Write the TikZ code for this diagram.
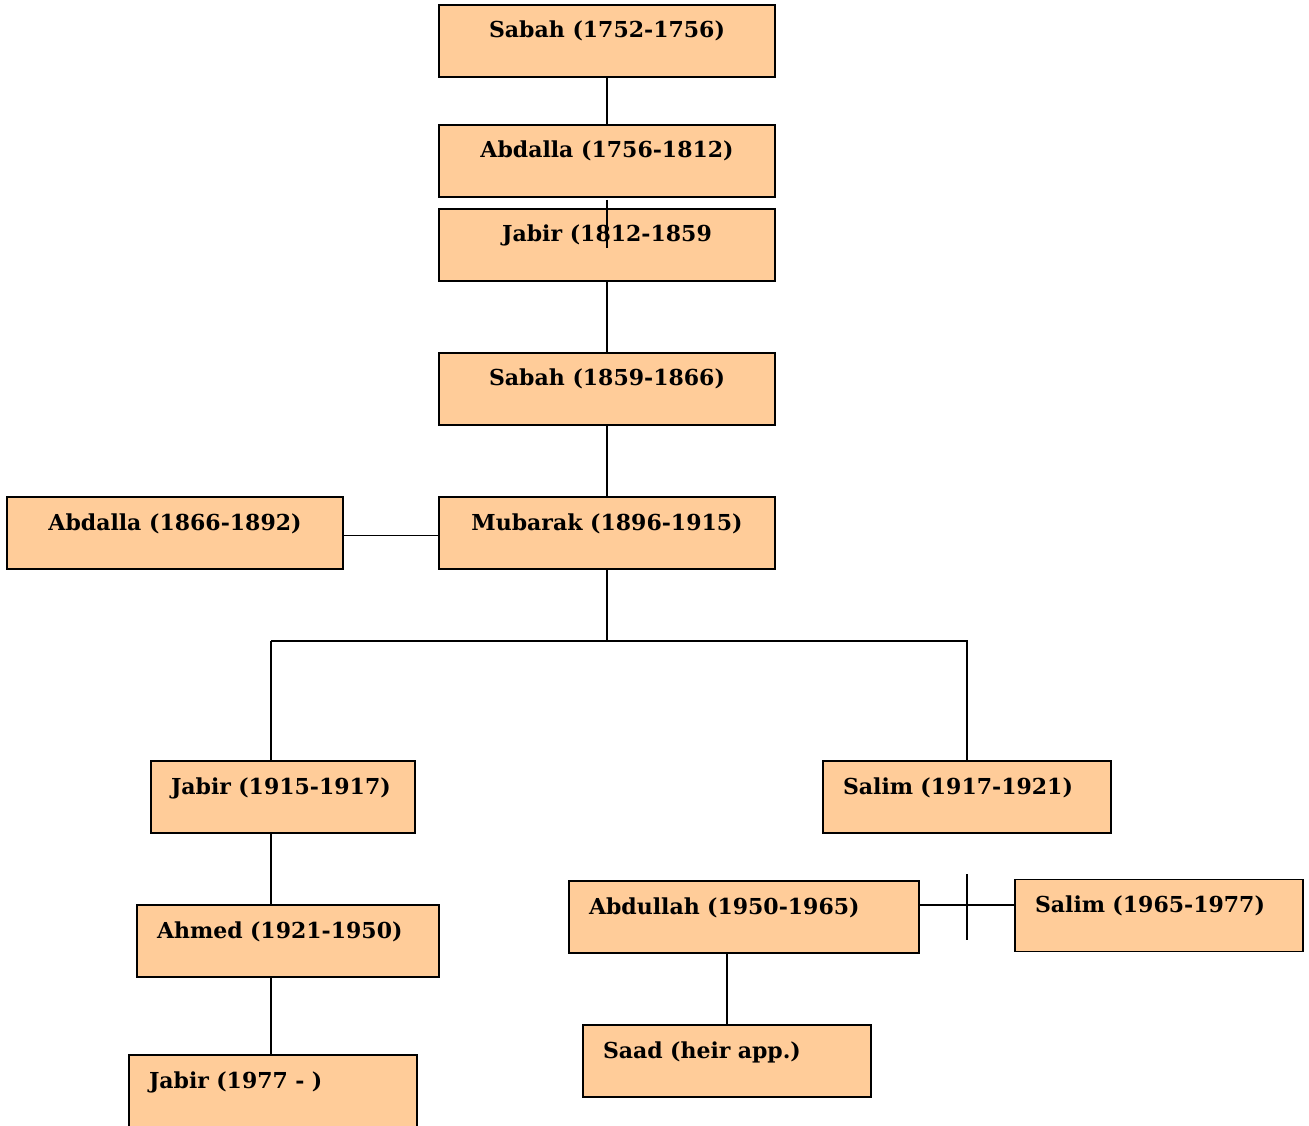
\documentclass[tikz,border=0pt]{standalone}
\usepackage{fontspec}
\setmainfont{DejaVu Serif}
\usetikzlibrary{calc}
\definecolor{peach}{RGB}{255,204,153}

\tikzset{
  box/.style={draw, line width=1.3pt, fill=peach, inner sep=0pt,
    minimum width=#1, minimum height=54pt,
    text height=24.75pt, text depth=29.25pt,
    font=\bfseries\fontsize{16.5}{19}\selectfont},
  box/.default=252pt,
  lbox/.style={box=10pt, inner xsep=15pt, text width=#1, align=left},
  link/.style={line width=1pt}
}

\begin{document}
\begin{tikzpicture}[x=0.75pt, y=-0.75pt]
		\useasboundingbox (0,0) rectangle (1309,1126);
		
		% main line
		\node [box] (sabah1) at (607,41) {Sabah (1752-1756)};
		\node [box] (abdalla1) at (607,161) {Abdalla (1756-1812)};
		\node [box] (jabir1) at (607,245) {Jabir (1812-1859};
		\node [box] (sabah2) at (607,389) {Sabah (1859-1866)};
		\node [box] (mubarak) at (607,533) {Mubarak (1896-1915)};
		\node [box] (abdalla2) at (175,533) {Abdalla (1866-1892)};
		
		% sons of Mubarak
		\node [lbox=168pt] (jabir2) at (283,797) {Jabir (1915-1917)};
		\node [lbox=186pt] (salim1) at (967,797) {Salim (1917-1921)};
		\node [lbox=196.5pt] (ahmed) at (288,941) {Ahmed (1921-1950)};
		\node [lbox=186pt] (jabir3) at (273,1091) {Jabir (1977 - )};
		\node [lbox=232.5pt] (abdullah) at (744,917) {Abdullah (1950-1965)};
		\node [lbox=186pt] (salim2) at (1159,915.5) {Salim (1965-1977)};
		\node [lbox=186pt] (saad) at (727,1061) {Saad (heir app.)};
		
		\coordinate (fork) at (607,641);
		\coordinate (trunk) at (271,641);
		\coordinate (tick) at (967,905);
		
		\draw [link] (sabah1) -- (abdalla1);
		\draw [link] (jabir1) -- (sabah2);
		\draw [link] (sabah2) -- (mubarak);
		\draw [link] ([yshift=-2pt]abdalla2.east) -- ([yshift=-2pt]mubarak.west);
		
		\draw [link] (mubarak.south) -- (fork);
		\draw [link] (trunk) -- (fork) -| (salim1.north);
		\draw [link] (trunk) -- (trunk |- jabir2.north);
		\draw [link] (trunk |- jabir2.south) -- (trunk |- ahmed.north);
		\draw [link] (trunk |- ahmed.south) -- (trunk |- jabir3.north);
		
		\draw [link] (abdullah.east |- tick) -- (salim2.west |- tick);
		\draw [link] ($(tick)+(0,-31)$) -- ($(tick)+(0,35)$);
		\draw [link] (saad.north |- abdullah.south) -- (saad.north);
		
		\draw [link] ([yshift=-1.5pt]abdalla1.south) -- ([yshift=-2pt]jabir1.center);
		
		\end{tikzpicture}
\end{document}
